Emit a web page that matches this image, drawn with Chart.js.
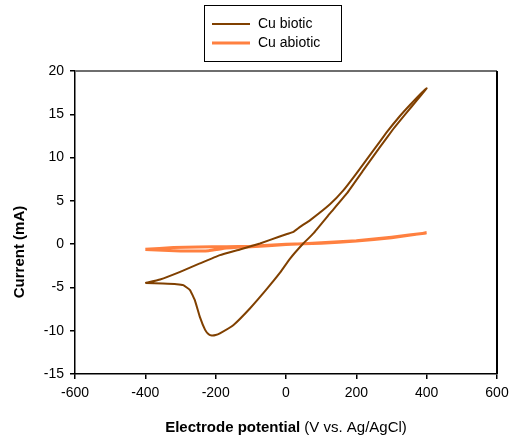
<!DOCTYPE html>
<html>
<head>
<meta charset="utf-8">
<script src="https://cdn.jsdelivr.net/npm/chart.js@4.4.1/dist/chart.umd.min.js"></script>
<style>
  html, body { margin: 0; padding: 0; background: #fff; }
  #wrap { width: 515px; height: 442px; }
</style>
</head>
<body>
<div id="wrap"><canvas id="cv_chart" width="515" height="442"></canvas></div>
<script>
// potential sweep (mV) and current (mA), forward branch then return branch
var bioticV = [-400, -350, -311, -292, -273, -259, -245, -230, -220, -211, -200, -188, -150, -102, -55, -17, 11, 49, 78, 125, 173, 220, 267, 305, 343, 372, 400,
               381, 353, 324, 286, 248, 201, 163, 125, 68, 40, 21, 5, -20, -74, -131, -188, -245, -301, -358, -400];
var bioticI = [-4.5, -4.55, -4.62, -4.74, -5.3, -6.5, -8.4, -9.9, -10.4, -10.55, -10.5, -10.3, -9.36, -7.4, -5.2, -3.3, -1.7, 0.07, 1.24, 3.55, 5.86, 8.55, 11.2, 13.3, 15.2, 16.6, 18.0,
               17.3, 16.1, 14.8, 12.9, 10.8, 8.2, 6.2, 4.6, 2.75, 2.0, 1.42, 1.2, 0.85, 0.08, -0.61, -1.27, -2.23, -3.2, -4.08, -4.5];
var abioticV = [-400, -300, -220, -170, -100, 0, 100, 200, 300, 400,
                300, 200, 100, 0, -100, -170, -250, -320, -400];
var abioticI = [-0.62, -0.78, -0.75, -0.45, -0.3, -0.05, 0.15, 0.4, 0.8, 1.3,
                0.75, 0.35, 0.1, 0, -0.25, -0.3, -0.32, -0.4, -0.6];
var seriesNames = ["Cu biotic", "Cu abiotic"];
var seriesColors = ["#804000", "#ff8040"];

function toPoints(xs, ys) {
    var pts = [];
    for (var i = 0; i < xs.length; i++) pts.push({x: xs[i], y: ys[i]});
    return pts;
}

var FONT = "'Liberation Sans', Arial, sans-serif";

// legend box, plot frame and axis titles
var decor = {
    id: 'decor',
    afterDraw: function (chart) {
        var ctx = chart.ctx, a = chart.chartArea;
        ctx.save();
        // top and right frame
        ctx.lineWidth = 2;
        ctx.strokeStyle = '#6e6e6e';
        ctx.beginPath(); ctx.moveTo(a.left, a.top); ctx.lineTo(a.right, a.top); ctx.stroke();
        ctx.strokeStyle = '#000';
        ctx.beginPath(); ctx.moveTo(a.right, a.top); ctx.lineTo(a.right, a.bottom); ctx.stroke();

        // legend
        ctx.lineWidth = 1;
        ctx.strokeStyle = '#000';
        ctx.strokeRect(204.5, 5.5, 137, 56);
        ctx.font = '14px ' + FONT;
        ctx.textBaseline = 'middle';
        ctx.textAlign = 'left';
        chart.data.datasets.forEach(function (ds, i) {
            var y = 24 + i * 19;
            ctx.strokeStyle = ds.borderColor;
            ctx.lineWidth = ds.borderWidth;
            ctx.beginPath(); ctx.moveTo(212, y); ctx.lineTo(250, y); ctx.stroke();
            ctx.fillStyle = '#000';
            ctx.fillText(ds.label, 258, y);
        });

        // x title: bold part + normal part
        var t1 = 'Electrode potential', t2 = ' (V vs. Ag/AgCl)';
        ctx.font = 'bold 15px ' + FONT;
        var w1 = ctx.measureText(t1).width;
        ctx.font = '15px ' + FONT;
        var w2 = ctx.measureText(t2).width;
        var x0 = (a.left + a.right) / 2 - (w1 + w2) / 2;
        ctx.fillStyle = '#000';
        ctx.font = 'bold 15px ' + FONT;
        ctx.fillText(t1, x0, 428);
        ctx.font = '15px ' + FONT;
        ctx.fillText(t2, x0 + w1, 428);

        // y title
        ctx.translate(20, 252);
        ctx.rotate(-Math.PI / 2);
        ctx.textAlign = 'center';
        ctx.font = 'bold 15px ' + FONT;
        ctx.fillText('Current (mA)', 0, 0);
        ctx.restore();
    }
};

new Chart(document.getElementById('cv_chart').getContext('2d'), {
    type: 'scatter',
    data: {
        datasets: [{
            label: seriesNames[0],
            data: toPoints(bioticV, bioticI),
            showLine: true,
            borderColor: seriesColors[0],
            borderWidth: 2,
            pointRadius: 0,
            tension: 0.1
        }, {
            label: seriesNames[1],
            data: toPoints(abioticV, abioticI),
            showLine: true,
            borderColor: seriesColors[1],
            borderWidth: 3,
            pointRadius: 0,
            tension: 0.1
        }]
    },
    options: {
        responsive: false,
        animation: false,
        layout: { padding: { left: 0, right: 18, top: 71, bottom: 0 } },
        plugins: { legend: { display: false }, tooltip: { enabled: false } },
        scales: {
            x: {
                type: 'linear', min: -600, max: 600,
                ticks: { stepSize: 200, color: '#000', font: { size: 14, family: FONT }, padding: 6, maxRotation: 0 },
                grid: { drawOnChartArea: false, drawTicks: true, tickLength: 5, color: '#000', lineWidth: 1.5 },
                border: { display: true, color: '#000', width: 1.5 },
                afterFit: function (s) { s.height = 68; }
            },
            y: {
                min: -15, max: 20,
                ticks: { stepSize: 5, color: '#000', font: { size: 14, family: FONT }, padding: 6 },
                grid: { drawOnChartArea: false, drawTicks: true, tickLength: 5, color: '#000', lineWidth: 1.5 },
                border: { display: true, color: '#000', width: 1.5 },
                afterFit: function (s) { s.width = 75; }
            }
        }
    },
    plugins: [decor]
});
</script>
</body>
</html>
